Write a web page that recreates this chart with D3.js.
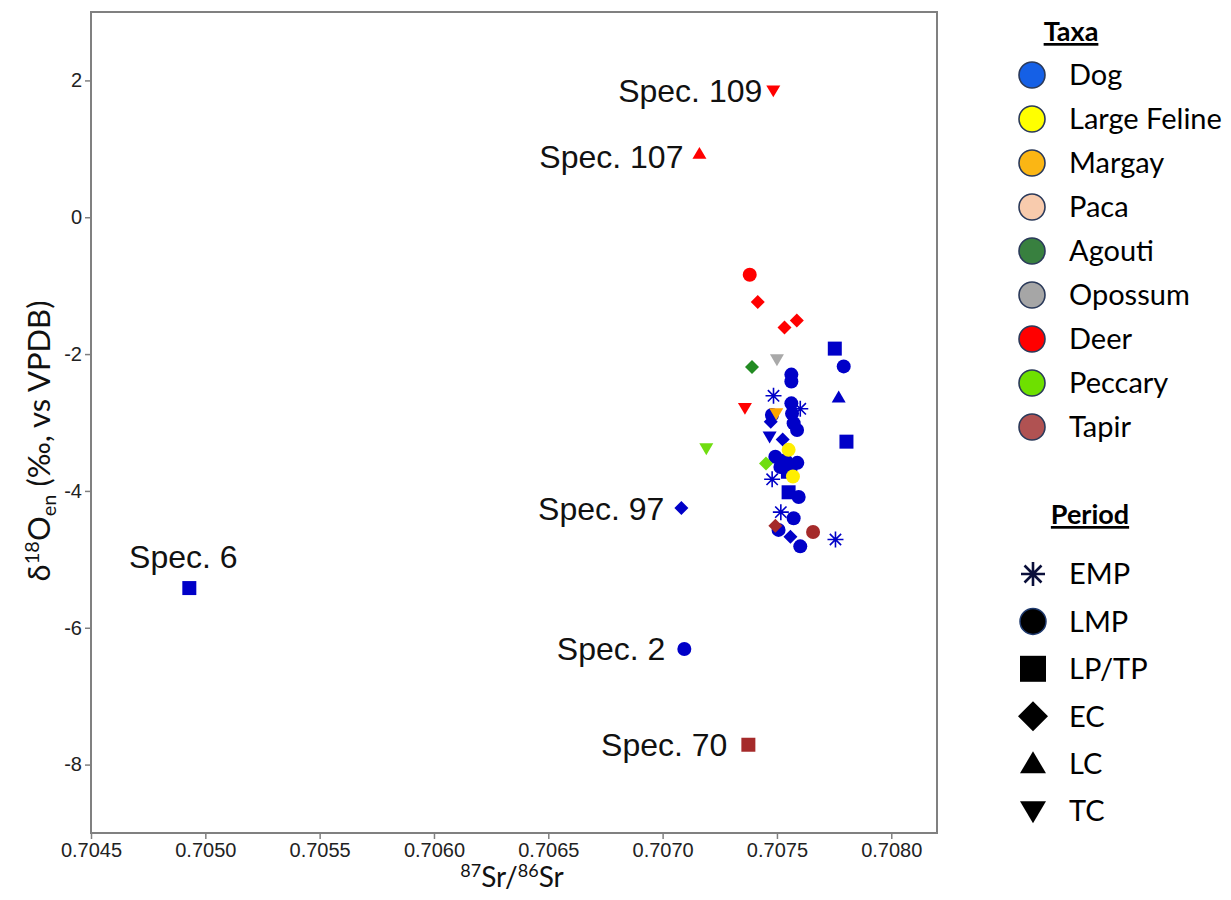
<!DOCTYPE html>
<html>
<head>
<meta charset="utf-8">
<script src="https://cdn.jsdelivr.net/npm/d3@7"></script>
<style>
  body { margin: 0; background: #fff; }
</style>
</head>
<body>
<div id="chart"></div>
<script>
var width = 1231,
    height = 900;

// taxa + colours (legend swatches are a bit lighter than the plotted marks)
var taxa = ["Dog", "Large Feline", "Margay", "Paca", "Agouti", "Opossum", "Deer", "Peccary", "Tapir"];
var legendColors = ["#1560e6", "#ffff00", "#fbb614", "#f8cbad", "#38803f", "#a6a6a6", "#ff0000", "#6ee000", "#b05252"];
var pointColors = ["#0000c8", "#ffee00", "#ffa500", "#f8cbad", "#228b22", "#a9a9a9", "#ff0000", "#70dd10", "#a52a2a"];

var periods = ["EMP", "LMP", "LP/TP", "EC", "LC", "TC"];

var xTicks = [0.7045, 0.7050, 0.7055, 0.7060, 0.7065, 0.7070, 0.7075, 0.7080];
var yTicks = [2, 0, -2, -4, -6, -8];

// [taxon, period, 87Sr/86Sr, d18O, label]
var specimens = [
    // dogs
    ["Dog", "LMP", 0.707792, -2.18, ""],
    ["Dog", "LMP", 0.707563, -2.30, ""],
    ["Dog", "LMP", 0.707563, -2.40, ""],
    ["Dog", "LMP", 0.707563, -2.72, ""],
    ["Dog", "LMP", 0.707566, -2.87, ""],
    ["Dog", "LMP", 0.707573, -3.01, ""],
    ["Dog", "LMP", 0.707588, -3.11, ""],
    ["Dog", "LMP", 0.707478, -2.89, ""],
    ["Dog", "LMP", 0.707493, -3.50, ""],
    ["Dog", "LMP", 0.707537, -3.55, ""],
    ["Dog", "LMP", 0.707589, -3.59, ""],
    ["Dog", "LMP", 0.707515, -3.65, ""],
    ["Dog", "LMP", 0.707559, -3.69, ""],
    ["Dog", "LMP", 0.707595, -4.09, ""],
    ["Dog", "LMP", 0.707573, -4.40, ""],
    ["Dog", "LMP", 0.707507, -4.57, ""],
    ["Dog", "LMP", 0.707602, -4.81, ""],
    ["Dog", "LMP", 0.707095, -6.31, "Spec. 2"],
    ["Dog", "LP/TP", 0.707753, -1.92, ""],
    ["Dog", "LP/TP", 0.707804, -3.28, ""],
    ["Dog", "LP/TP", 0.707548, -3.72, ""],
    ["Dog", "LP/TP", 0.707551, -4.02, ""],
    ["Dog", "LP/TP", 0.704930, -5.42, "Spec. 6"],
    ["Dog", "EC", 0.707473, -2.99, ""],
    ["Dog", "EC", 0.707525, -3.25, ""],
    ["Dog", "EC", 0.707559, -4.67, ""],
    ["Dog", "EC", 0.707082, -4.25, "Spec. 97"],
    ["Dog", "LC", 0.707770, -2.63, ""],
    ["Dog", "TC", 0.707468, -3.21, ""],
    ["Dog", "EMP", 0.707485, -2.61, ""],
    ["Dog", "EMP", 0.707602, -2.80, ""],
    ["Dog", "EMP", 0.707479, -3.83, ""],
    ["Dog", "EMP", 0.707517, -4.31, ""],
    ["Dog", "EMP", 0.707756, -4.71, ""],
    // other taxa
    ["Large Feline", "LMP", 0.707551, -3.40, ""],
    ["Large Feline", "LMP", 0.707570, -3.79, ""],
    ["Margay", "TC", 0.707497, -2.87, ""],
    ["Agouti", "EC", 0.707391, -2.19, ""],
    ["Opossum", "TC", 0.707500, -2.08, ""],
    ["Deer", "LMP", 0.707381, -0.84, ""],
    ["Deer", "EC", 0.707416, -1.24, ""],
    ["Deer", "EC", 0.707533, -1.61, ""],
    ["Deer", "EC", 0.707587, -1.51, ""],
    ["Deer", "TC", 0.707360, -2.79, ""],
    ["Deer", "TC", 0.707484, 1.85, "Spec. 109"],
    ["Deer", "LC", 0.707161, 0.93, "Spec. 107"],
    ["Peccary", "EC", 0.707452, -3.60, ""],
    ["Peccary", "TC", 0.707191, -3.38, ""],
    ["Tapir", "EC", 0.707493, -4.51, ""],
    ["Tapir", "LMP", 0.707658, -4.60, ""],
    ["Tapir", "LP/TP", 0.707375, -7.71, "Spec. 70"]
];

var margin = {left: 91, right: 294, top: 12, bottom: 67};

var svg = d3.select("#chart")
    .append("svg")
    .attr("width", width)
    .attr("height", height)
    .style("font-family", "'Liberation Sans', Arial, sans-serif");

var x = d3.scaleLinear()
    .domain([0.7045, 0.7082])
    .range([margin.left, width - margin.right]);

var y = d3.scaleLinear()
    .domain([-9, 3])
    .range([height - margin.bottom, margin.top]);

// marker shapes, s = half size
function shape(period, s) {
    var p = d3.path();
    if (period == "LMP") {
        p.arc(0, 0, s, 0, 2 * Math.PI);
    } else if (period == "LP/TP") {
        p.rect(-s, -s, 2 * s, 2 * s);
    } else if (period == "EC") {
        p.moveTo(0, -s); p.lineTo(s, 0); p.lineTo(0, s); p.lineTo(-s, 0); p.closePath();
    } else if (period == "LC") {
        p.moveTo(-s, s * 0.75); p.lineTo(s, s * 0.75); p.lineTo(0, -s * 0.95); p.closePath();
    } else if (period == "TC") {
        p.moveTo(-s, -s * 0.75); p.lineTo(s, -s * 0.75); p.lineTo(0, s * 0.95); p.closePath();
    } else if (period == "EMP") {
        for (var a = 0; a < 4; a++) {
            var ang = a * Math.PI / 4;
            p.moveTo(-s * Math.cos(ang), -s * Math.sin(ang));
            p.lineTo(s * Math.cos(ang), s * Math.sin(ang));
        }
    }
    return p.toString();
}

// frame
svg.append("rect")
    .attr("x", x.range()[0])
    .attr("y", y.range()[1])
    .attr("width", x.range()[1] - x.range()[0])
    .attr("height", y.range()[0] - y.range()[1])
    .attr("fill", "none")
    .attr("stroke", "#808080")
    .attr("stroke-width", 2);

var xAxis = svg.append("g")
    .attr("transform", "translate(0," + y.range()[0] + ")")
    .call(d3.axisBottom(x).tickValues(xTicks).tickFormat(d3.format(".4f")).tickSizeOuter(0).tickSize(6).tickPadding(4));

var yAxis = svg.append("g")
    .attr("transform", "translate(" + x.range()[0] + ",0)")
    .call(d3.axisLeft(y).tickValues(yTicks).tickFormat(function(d) { return d; }).tickSizeOuter(0).tickSize(6).tickPadding(3));

[xAxis, yAxis].forEach(function(g) {
    g.select(".domain").remove();
    g.selectAll(".tick line").attr("stroke", "#808080").attr("stroke-width", 1.5);
    g.selectAll(".tick text")
        .attr("fill", "#222")
        .style("font-size", "20px")
        .style("font-family", "'Liberation Sans', Arial, sans-serif");
});

// axis titles (superscript/subscript shifts in px so they cancel out)
var xt = svg.append("text")
    .attr("x", 512)
    .attr("y", 887)
    .attr("text-anchor", "middle")
    .style("font-family", "Lato, sans-serif")
    .style("font-size", "28px")
    .attr("fill", "#111");
xt.append("tspan").text("87").attr("dy", -10).style("font-size", "18px");
xt.append("tspan").text("Sr/").attr("dy", 10);
xt.append("tspan").text("86").attr("dy", -10).style("font-size", "18px");
xt.append("tspan").text("Sr").attr("dy", 10);

var yt = svg.append("text")
    .attr("transform", "translate(50,441) rotate(-90)")
    .attr("text-anchor", "middle")
    .style("font-family", "Lato, sans-serif")
    .style("font-size", "31px")
    .attr("fill", "#111");
yt.append("tspan").text("δ");
yt.append("tspan").text("18").attr("dy", -11).style("font-size", "20px");
yt.append("tspan").text("O").attr("dy", 11);
yt.append("tspan").text("en").attr("dy", 6).style("font-size", "20px");
yt.append("tspan").text(" (‰, vs VPDB)").attr("dy", -6);

// points: dogs underneath, other taxa on top
var ordered = specimens.filter(function(d) { return d[0] == "Dog" && d[1] != "EMP"; })
    .concat(specimens.filter(function(d) { return d[0] == "Dog" && d[1] == "EMP"; }))
    .concat(specimens.filter(function(d) { return d[0] != "Dog"; }));

svg.selectAll(".pt")
    .data(ordered)
    .enter().append("path")
    .attr("class", "pt")
    .attr("transform", function(d) { return "translate(" + x(d[2]) + "," + y(d[3]) + ")"; })
    .attr("d", function(d) { return shape(d[1], d[1] == "EMP" ? 8 : 7); })
    .attr("fill", function(d) { return d[1] == "EMP" ? "none" : pointColors[taxa.indexOf(d[0])]; })
    .attr("stroke", function(d) { return d[1] == "EMP" ? pointColors[taxa.indexOf(d[0])] : "none"; })
    .attr("stroke-width", 1.6);

// specimen labels
var labelOffset = {
    "Spec. 109": [-11, 0, "end"],
    "Spec. 107": [-16, 3, "end"],
    "Spec. 97": [-17, 0, "end"],
    "Spec. 6": [-6, -32, "middle"],
    "Spec. 2": [-19, 0, "end"],
    "Spec. 70": [-21, 0, "end"]
};

svg.selectAll(".lbl")
    .data(specimens.filter(function(d) { return d[4] != ""; }))
    .enter().append("text")
    .attr("class", "lbl")
    .attr("x", function(d) { return x(d[2]) + labelOffset[d[4]][0]; })
    .attr("y", function(d) { return y(d[3]) + labelOffset[d[4]][1]; })
    .attr("dy", "0.36em")
    .attr("text-anchor", function(d) { return labelOffset[d[4]][2]; })
    .style("font-size", "32px")
    .attr("fill", "#111")
    .text(function(d) { return d[4]; });

// legend: taxa
var leg = svg.append("g").style("font-family", "Lato, sans-serif");

leg.append("text")
    .attr("x", 1071).attr("y", 41)
    .attr("text-anchor", "middle")
    .style("font-size", "27px").style("font-weight", "bold")
    .style("text-decoration", "underline")
    .text("Taxa");

var taxaRows = leg.selectAll(".taxa")
    .data(taxa)
    .enter().append("g")
    .attr("transform", function(d, i) { return "translate(1032," + (75 + i * 44) + ")"; });

taxaRows.append("circle")
    .attr("r", 13)
    .attr("fill", function(d, i) { return legendColors[i]; })
    .attr("stroke", "#2b3a5a")
    .attr("stroke-width", 1.6);

taxaRows.append("text")
    .attr("x", 37).attr("dy", "0.36em")
    .style("font-size", "29px")
    .text(function(d) { return d; });

// legend: period
leg.append("text")
    .attr("x", 1090).attr("y", 524)
    .attr("text-anchor", "middle")
    .style("font-size", "27px").style("font-weight", "bold")
    .style("text-decoration", "underline")
    .text("Period");

var periodRows = leg.selectAll(".period")
    .data(periods)
    .enter().append("g")
    .attr("transform", function(d, i) { return "translate(1033," + (574 + i * 47.4) + ")"; });

periodRows.append("path")
    .attr("d", function(d) { return shape(d, d == "EMP" ? 12 : (d == "EC" ? 15 : 13)); })
    .attr("fill", function(d) { return d == "EMP" ? "none" : "#000"; })
    .attr("stroke", function(d) { return d == "EMP" ? "#0a0f3a" : (d == "LMP" ? "#1f3a6e" : "none"); })
    .attr("stroke-width", function(d) { return d == "EMP" ? 2.6 : 1.5; });

periodRows.append("text")
    .attr("x", 36).attr("dy", "0.36em")
    .style("font-size", "29px")
    .text(function(d) { return d; });
</script>
</body>
</html>
